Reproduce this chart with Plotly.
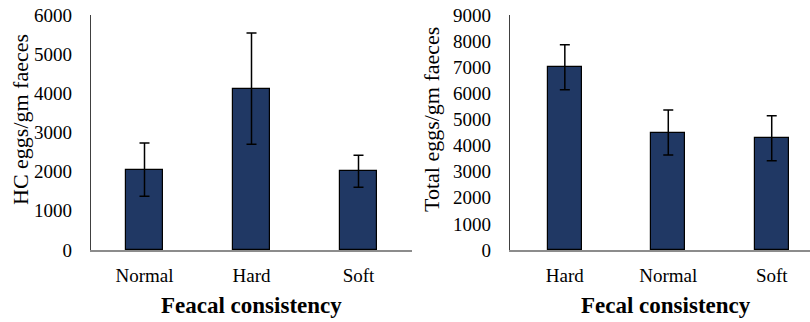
import plotly.graph_objects as go

# Left panel: hookworm-complex (HC) egg counts by faecal consistency
hc_categories = ["Normal", "Hard", "Soft"]
hc_means = [2050, 4120, 2010]
hc_errors = [680, 1420, 410]

# Right panel: total egg counts by faecal consistency
total_categories = ["Hard", "Normal", "Soft"]
total_means = [7000, 4500, 4280]
total_errors = [860, 860, 860]

hc_ticks = [0, 1000, 2000, 3000, 4000, 5000, 6000]
total_ticks = [0, 1000, 2000, 3000, 4000, 5000, 6000, 7000, 8000, 9000]

W, H = 810, 322
BAR = "#203864"
FONT = "Liberation Serif, Times New Roman, serif"

fig = go.Figure()

fig.add_trace(go.Bar(
    x=hc_categories, y=hc_means, width=0.34,
    marker=dict(color=BAR, line=dict(color="#000000", width=1.2)),
    error_y=dict(type="data", array=hc_errors, color="#000000", thickness=1.5, width=5),
    xaxis="x", yaxis="y", showlegend=False,
))
fig.add_trace(go.Bar(
    x=total_categories, y=total_means, width=0.33,
    marker=dict(color=BAR, line=dict(color="#000000", width=1.2)),
    error_y=dict(type="data", array=total_errors, color="#000000", thickness=1.5, width=5),
    xaxis="x2", yaxis="y2", showlegend=False,
))

y_dom = [(H - 250) / H, (H - 15) / H]

xcommon = dict(showgrid=False, zeroline=False, showline=True, linecolor="#8c8c8c",
               linewidth=1.5, ticks="", tickfont=dict(family=FONT, size=19, color="#000000"),
               ticklabelstandoff=7, fixedrange=True, automargin=False)
ycommon = dict(showgrid=False, zeroline=False, showline=True, linecolor="#404040",
               linewidth=1.2, ticks="", tickfont=dict(family=FONT, size=19, color="#000000"),
               ticklabelstandoff=14, fixedrange=True, automargin=False)

fig.update_layout(
    width=W, height=H,
    margin=dict(l=0, r=0, t=0, b=0, autoexpand=False),
    paper_bgcolor="#ffffff", plot_bgcolor="#ffffff",
    font=dict(family=FONT, color="#000000"),
    bargap=0,
    xaxis=dict(domain=[91 / W, 412 / W], range=[-0.5, 2.5], anchor="y", **xcommon),
    yaxis=dict(domain=y_dom, range=[0, 6000], tickvals=hc_ticks, anchor="x", **ycommon),
    xaxis2=dict(domain=[510 / W, 1.0], range=[-0.53, 2.37], anchor="y2", **xcommon),
    yaxis2=dict(domain=y_dom, range=[0, 9000], tickvals=total_ticks, anchor="x2", **ycommon),
    annotations=[
        dict(text="HC eggs/gm faeces", x=20 / W, y=(H - 120) / H, xref="paper", yref="paper",
             textangle=-90, showarrow=False, xanchor="center", yanchor="middle",
             font=dict(family=FONT, size=22, color="#000000")),
        dict(text="Total eggs/gm faeces", x=431 / W, y=(H - 120) / H, xref="paper", yref="paper",
             textangle=-90, showarrow=False, xanchor="center", yanchor="middle",
             font=dict(family=FONT, size=22, color="#000000")),
        dict(text="<b>Feacal consistency</b>", x=251 / W, y=(H - 305) / H, xref="paper", yref="paper",
             showarrow=False, xanchor="center", yanchor="middle",
             font=dict(family=FONT, size=23, color="#000000")),
        dict(text="<b>Fecal consistency</b>", x=666 / W, y=(H - 305) / H, xref="paper", yref="paper",
             showarrow=False, xanchor="center", yanchor="middle",
             font=dict(family=FONT, size=23, color="#000000")),
    ],
)

fig.write_html("out.html")
